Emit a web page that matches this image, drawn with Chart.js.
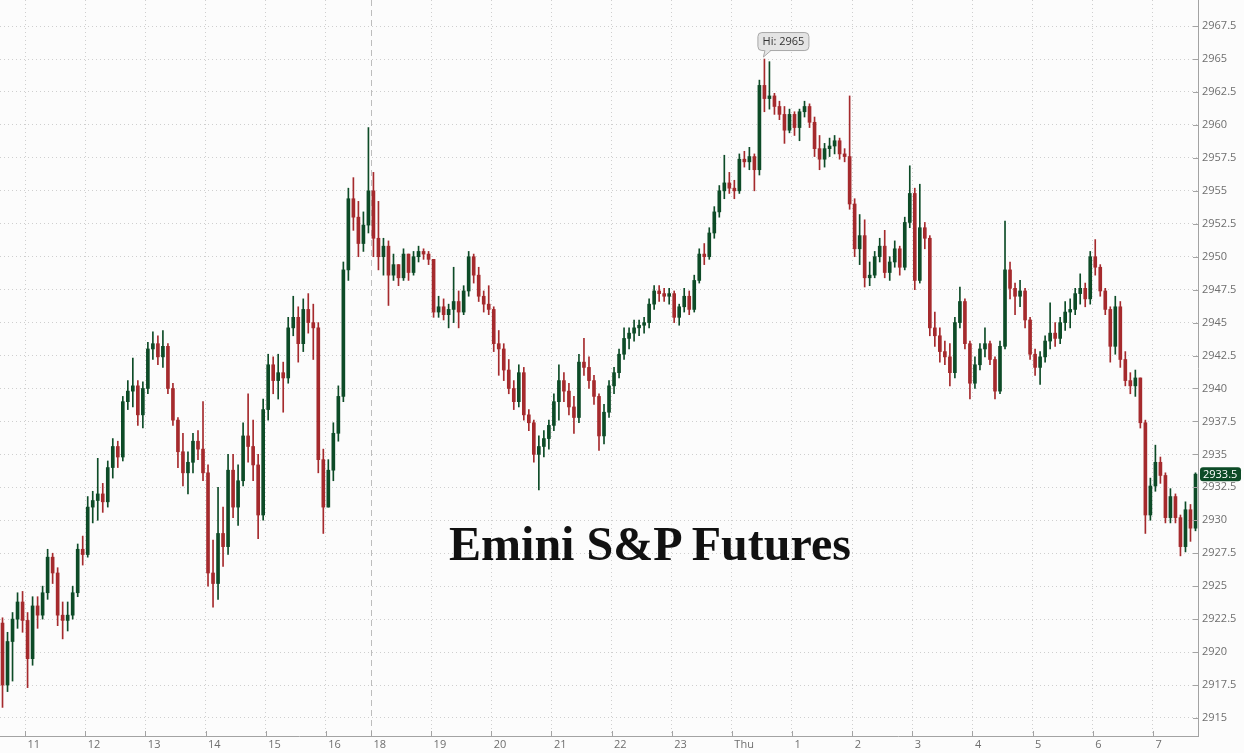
<!DOCTYPE html>
<html>
<head>
<meta charset="utf-8">
<script src="https://cdn.jsdelivr.net/npm/chart.js@4"></script>
<style>
  html, body { margin: 0; padding: 0; background: #fcfcfc; }
  #wrap { position: relative; width: 1244px; height: 753px; }
  #title {
    position: absolute; left: 650px; top: 520px; transform: translateX(-50%);
    white-space: nowrap; font: bold 48px/48px "Liberation Serif", serif; color: #111;
    pointer-events: none;
  }
</style>
</head>
<body>
<div id="wrap">
  <canvas id="chart"></canvas>
  <div id="title">Emini S&amp;P Futures</div>
</div>
<script>
// 5-minute bars, two sessions (day session, then overnight from 18:00)
const sessionOpen = ['10:35', '18:00'];
const sessionBars = [74, 165];
const dayLabel = 'Thu';
const firstOpen = 2922.2;

const closes = [
  // 10:35 - 16:40
  2917.5, 2920.8, 2922.5, 2923.8, 2922.4, 2919.5, 2923.5, 2922.8, 2924.5, 2927.2,
  2926.0, 2922.8, 2922.4, 2922.8, 2924.5, 2927.8, 2927.4, 2931.0, 2931.5, 2932.0,
  2931.4, 2934.0, 2935.6, 2934.8, 2939.0, 2939.8, 2940.2, 2938.0, 2940.0, 2943.0,
  2943.4, 2942.4, 2943.2, 2940.0, 2937.6, 2935.2, 2933.6, 2934.4, 2936.0, 2935.4,
  2933.6, 2926.0, 2925.2, 2929.0, 2928.0, 2933.8, 2931.0, 2933.0, 2936.4, 2935.6,
  2934.2, 2930.4, 2938.4, 2941.8, 2940.6, 2941.2, 2940.8, 2944.6, 2945.4, 2943.4,
  2946.0, 2945.0, 2944.6, 2934.6, 2931.0, 2933.8, 2936.6, 2939.4, 2949.0, 2954.4,
  2953.0, 2951.0, 2952.4, 2955.0,
  // 18:00 - 07:40
  2951.4, 2950.0, 2950.8, 2948.6, 2949.4, 2948.4, 2950.2, 2948.8, 2950.0, 2950.4,
  2950.2, 2949.8, 2945.8, 2946.2, 2945.6, 2946.0, 2946.6, 2945.8, 2947.4, 2950.0,
  2948.6, 2947.0, 2946.4, 2946.0, 2943.4, 2943.0, 2941.4, 2940.0, 2939.0, 2941.2,
  2938.0, 2937.4, 2935.0, 2935.6, 2936.2, 2937.2, 2939.0, 2940.6, 2939.8, 2938.6,
  2937.8, 2942.0, 2941.6, 2940.6, 2939.4, 2936.4, 2938.2, 2940.2, 2941.2, 2942.6,
  2943.8, 2944.2, 2944.6, 2944.8, 2945.0, 2946.4, 2947.4, 2947.2, 2947.0, 2947.2,
  2945.4, 2946.2, 2947.0, 2946.0, 2948.2, 2950.2, 2950.0, 2951.8, 2953.4, 2955.0,
  2955.6, 2955.2, 2955.0, 2957.4, 2957.2, 2957.6, 2956.6, 2963.0, 2962.0, 2962.2,
  2961.4, 2960.8, 2959.6, 2960.8, 2959.8, 2961.0, 2961.4, 2960.2, 2958.2, 2957.4,
  2958.2, 2958.4, 2958.8, 2957.8, 2957.6, 2954.0, 2950.6, 2951.6, 2948.4, 2948.6,
  2950.0, 2950.8, 2948.8, 2949.6, 2950.6, 2949.2, 2952.6, 2954.8, 2948.2, 2952.2,
  2951.4, 2944.6, 2944.0, 2942.8, 2942.4, 2941.2, 2945.0, 2946.6, 2943.4, 2940.4,
  2941.8, 2943.0, 2943.4, 2942.2, 2939.8, 2943.2, 2949.0, 2947.6, 2947.0, 2947.4,
  2945.2, 2942.6, 2941.6, 2942.4, 2943.6, 2944.2, 2943.8, 2945.0, 2945.8, 2946.0,
  2947.2, 2947.6, 2946.8, 2950.0, 2949.2, 2947.4, 2946.0, 2943.2, 2946.2, 2942.2,
  2940.6, 2940.2, 2940.8, 2937.4, 2930.4, 2932.6, 2934.4, 2933.4, 2930.2, 2931.8,
  2930.2, 2928.0, 2930.8, 2929.4, 2933.5
];

const highs = [
  2922.6, 2921.5, 2923.0, 2924.5, 2924.6, 2923.0, 2924.2, 2924.2, 2925.0, 2927.8,
  2927.5, 2926.4, 2923.8, 2923.8, 2925.0, 2928.2, 2928.8, 2931.8, 2932.2, 2934.7,
  2932.8, 2934.5, 2936.2, 2936.0, 2939.4, 2940.6, 2942.3, 2940.6, 2940.5, 2943.5,
  2944.3, 2944.0, 2944.4, 2943.4, 2940.4, 2937.8, 2936.6, 2935.2, 2936.6, 2936.8,
  2939.0, 2934.2, 2928.5, 2932.5, 2931.0, 2935.0, 2935.0, 2934.2, 2937.4, 2939.6,
  2937.6, 2935.0, 2939.2, 2942.6, 2942.4, 2942.6, 2942.0, 2945.4, 2947.0, 2946.2,
  2946.8, 2947.2, 2946.4, 2945.0, 2935.4, 2934.6, 2937.4, 2940.2, 2949.6, 2955.2,
  2956.0, 2954.2, 2953.4, 2959.8,
  2956.4, 2954.2, 2951.4, 2951.2, 2950.2, 2949.4, 2950.6, 2950.2, 2950.4, 2950.8,
  2950.6, 2950.4, 2949.8, 2947.0, 2946.8, 2946.4, 2949.2, 2947.4, 2947.8, 2950.4,
  2950.2, 2949.2, 2947.4, 2947.8, 2946.2, 2944.4, 2943.4, 2942.2, 2940.6, 2941.8,
  2941.6, 2938.4, 2937.6, 2936.4, 2936.8, 2937.6, 2939.6, 2941.8, 2941.2, 2940.4,
  2939.4, 2942.6, 2943.8, 2942.4, 2941.0, 2939.6, 2938.8, 2940.6, 2941.6, 2943.0,
  2944.6, 2944.6, 2945.2, 2945.2, 2945.4, 2946.8, 2947.8, 2947.8, 2947.6, 2947.6,
  2947.4, 2946.4, 2947.6, 2947.4, 2948.6, 2950.6, 2951.0, 2952.2, 2953.8, 2955.4,
  2957.7, 2956.4, 2955.8, 2957.8, 2958.0, 2958.3, 2957.8, 2963.4, 2965.0, 2964.8,
  2962.4, 2961.8, 2961.4, 2961.2, 2961.0, 2961.2, 2961.8, 2961.6, 2960.6, 2959.2,
  2958.6, 2959.0, 2959.2, 2959.0, 2958.2, 2962.2, 2954.4, 2953.2, 2952.8, 2949.6,
  2950.4, 2951.4, 2952.0, 2950.0, 2951.2, 2950.8, 2953.0, 2956.9, 2955.2, 2955.5,
  2952.6, 2951.6, 2945.8, 2944.6, 2943.6, 2943.4, 2945.4, 2947.7, 2946.8, 2943.6,
  2942.4, 2943.4, 2944.6, 2943.6, 2942.4, 2943.6, 2952.7, 2949.6, 2948.0, 2948.2,
  2947.6, 2945.4, 2943.0, 2942.8, 2944.0, 2946.5, 2945.0, 2945.4, 2946.6, 2946.8,
  2947.6, 2948.7, 2948.0, 2950.4, 2951.3, 2949.4, 2947.6, 2946.2, 2947.0, 2946.6,
  2942.8, 2941.2, 2941.4, 2940.8, 2937.6, 2933.2, 2935.7, 2934.8, 2933.6, 2932.4,
  2932.0, 2930.4, 2931.4, 2931.2, 2933.6
];

const lows = [
  2915.8, 2917.0, 2917.8, 2921.8, 2921.5, 2917.3, 2919.0, 2921.8, 2922.5, 2924.0,
  2925.2, 2922.0, 2921.0, 2921.6, 2922.5, 2924.2, 2926.6, 2927.2, 2929.8, 2930.0,
  2930.6, 2931.0, 2933.2, 2934.0, 2934.5, 2938.4, 2938.6, 2937.2, 2937.0, 2939.6,
  2942.2, 2941.8, 2941.6, 2939.6, 2937.2, 2934.0, 2932.6, 2932.0, 2933.6, 2934.6,
  2933.0, 2925.0, 2923.4, 2924.0, 2926.5, 2927.4, 2930.2, 2929.6, 2932.6, 2934.4,
  2933.0, 2928.6, 2930.0, 2937.6, 2939.6, 2939.2, 2938.2, 2940.4, 2944.0, 2942.0,
  2942.8, 2944.2, 2942.2, 2933.6, 2929.0, 2931.0, 2933.0, 2936.0, 2939.0, 2948.2,
  2952.0, 2950.0, 2950.4, 2951.8,
  2950.0, 2949.0, 2948.6, 2946.3, 2948.2, 2947.8, 2948.2, 2948.2, 2948.6, 2949.6,
  2949.8, 2949.4, 2945.4, 2945.4, 2945.2, 2944.6, 2945.0, 2944.6, 2945.6, 2947.0,
  2948.0, 2946.6, 2945.8, 2945.6, 2942.8, 2941.0, 2940.6, 2939.6, 2938.4, 2938.6,
  2937.6, 2936.8, 2934.4, 2932.3, 2934.8, 2935.4, 2936.8, 2937.6, 2939.0, 2938.0,
  2936.6, 2937.4, 2941.0, 2940.0, 2938.8, 2935.3, 2935.8, 2937.8, 2939.6, 2940.8,
  2942.2, 2943.0, 2943.6, 2944.0, 2944.2, 2944.6, 2946.0, 2946.6, 2946.6, 2946.4,
  2945.0, 2944.8, 2945.8, 2945.6, 2945.8, 2948.0, 2949.4, 2949.8, 2951.4, 2953.0,
  2954.4, 2954.8, 2954.4, 2954.8, 2956.8, 2956.6, 2955.0, 2956.2, 2961.0, 2961.2,
  2960.8, 2960.4, 2958.6, 2959.4, 2959.2, 2958.8, 2960.6, 2959.8, 2957.6, 2956.6,
  2956.8, 2957.6, 2957.8, 2957.4, 2957.2, 2953.6, 2950.0, 2949.4, 2947.7, 2947.8,
  2948.4, 2949.6, 2948.4, 2948.2, 2949.2, 2948.6, 2949.0, 2952.2, 2947.5, 2948.0,
  2950.6, 2944.0, 2943.2, 2942.0, 2941.8, 2940.2, 2940.8, 2944.6, 2943.0, 2939.2,
  2940.0, 2941.4, 2942.4, 2941.8, 2939.2, 2939.6, 2943.0, 2946.8, 2945.6, 2946.2,
  2944.6, 2942.2, 2941.0, 2940.3, 2942.0, 2943.0, 2943.2, 2943.4, 2944.4, 2944.6,
  2945.6, 2946.4, 2946.2, 2946.4, 2948.6, 2947.0, 2945.6, 2942.0, 2942.6, 2941.6,
  2940.2, 2939.6, 2939.4, 2937.0, 2929.0, 2930.0, 2932.2, 2932.8, 2929.8, 2929.8,
  2929.8, 2927.3, 2927.6, 2928.4, 2929.2
];

const upColor = '#0d4b27';
const downColor = '#a52a2d';
const gridColor = '#cfcfcf';
const axisColor = '#a3a3a3';

// bar times
const times = [];
sessionOpen.forEach((t, s) => {
  let [h, m] = t.split(':').map(Number);
  for (let k = 0; k < sessionBars[s]; k++) {
    times.push(String(h).padStart(2, '0') + ':' + String(m).padStart(2, '0'));
    m += 5;
    if (m >= 60) { m -= 60; h = (h + 1) % 24; }
  }
});
const breakIndex = sessionBars[0];
const isHour = i => times[i] !== undefined && times[i].endsWith(':00');
const hourLabel = i => {
  const h = parseInt(times[i], 10);
  return h === 0 ? dayLabel : String(h);
};

const opens = closes.map((c, i) => i === 0 ? firstOpen : closes[i - 1]);
const colors = closes.map((c, i) => c >= opens[i] ? upColor : downColor);
const hi = highs.map((h, i) => Math.max(h, opens[i], closes[i]));
const lo = lows.map((l, i) => Math.min(l, opens[i], closes[i]));

Chart.defaults.font.family = '"Open Sans", sans-serif';
Chart.defaults.font.size = 11;
Chart.defaults.color = '#6e6e6e';

const noPad = s => { s.paddingTop = 0; s.paddingBottom = 0; s.paddingLeft = 0; s.paddingRight = 0; };

const marks = {
  id: 'marks',
  beforeDatasetsDraw(chart) {
    const {ctx, chartArea: a, scales: {x}} = chart;
    const bx = (x.getPixelForValue(breakIndex - 1) + x.getPixelForValue(breakIndex)) / 2;
    ctx.save();
    ctx.strokeStyle = '#bdbdbd';
    ctx.lineWidth = 1;
    ctx.setLineDash([6, 4]);
    ctx.beginPath();
    ctx.moveTo(Math.round(bx) + 0.5, a.top);
    ctx.lineTo(Math.round(bx) + 0.5, a.bottom);
    ctx.stroke();
    ctx.restore();
  },
  afterDraw(chart) {
    const {ctx, chartArea: a, scales: {x, y}} = chart;
    ctx.save();
    // short inner tick marks
    ctx.strokeStyle = axisColor;
    ctx.lineWidth = 1;
    ctx.beginPath();
    y.ticks.forEach(t => {
      const py = Math.round(y.getPixelForValue(t.value)) + 0.5;
      ctx.moveTo(a.right - 5, py); ctx.lineTo(a.right, py);
    });
    times.forEach((t, i) => {
      if (!isHour(i)) return;
      const px = Math.round((x.getPixelForValue(i - 1) + x.getPixelForValue(i)) / 2) + 0.5;
      ctx.moveTo(px, a.bottom - 5); ctx.lineTo(px, a.bottom);
    });
    ctx.stroke();

    // high callout
    let iMax = 0;
    hi.forEach((v, i) => { if (v > hi[iMax]) iMax = i; });
    const px = x.getPixelForValue(iMax);
    const py = y.getPixelForValue(hi[iMax]);
    const bw = 51, bh = 18, bl = px - 7, bt = py - 27;
    ctx.fillStyle = '#e4e4e4';
    ctx.strokeStyle = '#a8a8a8';
    ctx.beginPath();
    ctx.roundRect(bl + 0.5, bt + 0.5, bw, bh, 4);
    ctx.fill();
    ctx.stroke();
    ctx.beginPath();
    ctx.moveTo(px + 0.5, bt + bh - 0.5);
    ctx.lineTo(px - 1, py - 2);
    ctx.lineTo(px + 6.5, bt + bh - 0.5);
    ctx.closePath();
    ctx.fill();
    ctx.beginPath();
    ctx.moveTo(px + 0.5, bt + bh + 0.5);
    ctx.lineTo(px - 1, py - 2);
    ctx.lineTo(px + 6.5, bt + bh + 0.5);
    ctx.stroke();
    ctx.fillStyle = '#333';
    ctx.font = '11px "Open Sans", sans-serif';
    ctx.textAlign = 'center';
    ctx.textBaseline = 'middle';
    ctx.fillText('Hi: ' + hi[iMax], bl + bw / 2 + 0.5, bt + bh / 2 + 1);

    // last price tag
    const last = closes[closes.length - 1];
    const ly = y.getPixelForValue(last);
    ctx.fillStyle = upColor;
    ctx.beginPath();
    ctx.roundRect(a.right + 2, ly - 7, 41, 14, 3);
    ctx.fill();
    ctx.fillStyle = '#fff';
    ctx.textAlign = 'left';
    ctx.fillText(last.toFixed(1), a.right + 5, ly + 0.5);
    ctx.restore();
  }
};

new Chart(document.getElementById('chart'), {
  type: 'bar',
  data: {
    labels: times,
    datasets: [
      {
        label: 'body',
        data: closes.map((c, i) => [opens[i], c]),
        backgroundColor: colors,
        barThickness: 3,
        minBarLength: 1,
        grouped: false
      },
      {
        label: 'wick',
        data: lo.map((l, i) => [l, hi[i]]),
        backgroundColor: colors,
        barThickness: 1,
        grouped: false
      }
    ]
  },
  options: {
    responsive: true,
    maintainAspectRatio: false,
    animation: false,
    layout: { padding: 0 },
    plugins: { legend: { display: false }, tooltip: { enabled: false }, title: { display: false } },
    scales: {
      x: {
        offset: true,
        grid: {
          offset: true,
          drawTicks: false,
          color: gridColor,
          lineWidth: ctx => (isHour(ctx.index) && ctx.index !== breakIndex) ? 1 : 0
        },
        border: { color: axisColor, dash: [1, 3] },
        ticks: {
          autoSkip: false,
          maxRotation: 0,
          minRotation: 0,
          align: 'start',
          labelOffset: 0,
          padding: 2,
          callback: (v, i) => isHour(i) ? hourLabel(i) : ''
        },
        afterFit: s => { s.height = 17; noPad(s); }
      },
      y: {
        position: 'right',
        min: 2913.63,
        max: 2969.48,
        grid: { color: gridColor, drawTicks: false },
        border: { color: axisColor, dash: [1, 3] },
        ticks: {
          stepSize: 2.5,
          includeBounds: false,
          padding: 4,
          callback: v => v.toString()
        },
        afterFit: s => { s.width = 46; noPad(s); }
      }
    }
  },
  plugins: [marks]
});
</script>
</body>
</html>
